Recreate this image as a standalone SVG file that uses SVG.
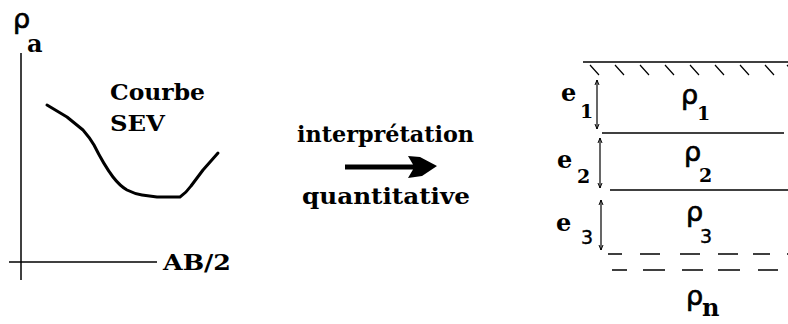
<svg xmlns="http://www.w3.org/2000/svg" width="788" height="324" viewBox="0 0 788 324">
<defs>
<marker id="tick" viewBox="0 0 6 6" refX="5.5" refY="3" markerWidth="6" markerHeight="6" markerUnits="userSpaceOnUse" orient="auto-start-reverse">
<path d="M0.5,1 L5.5,3 L0.5,5" fill="none" stroke="#000" stroke-width="1"/>
</marker>
<style>
.b{font-family:"DejaVu Serif","Liberation Serif",serif;font-weight:bold;font-size:22px;fill:#000}
.rho{font-family:"DejaVu Sans","Liberation Sans",sans-serif;font-size:27px;fill:#000;stroke:#000;stroke-width:0.7}
.sub{font-family:"DejaVu Serif","Liberation Serif",serif;font-weight:bold;font-size:19px;fill:#000}
.subs{font-family:"DejaVu Sans","Liberation Sans",sans-serif;font-size:19px;fill:#000;stroke:#000;stroke-width:0.4}
.e{font-family:"DejaVu Serif","Liberation Serif",serif;font-weight:bold;font-size:24px;fill:#000}
.ln{stroke:#000;stroke-width:1.5;fill:none}
.th{stroke:#000;stroke-width:1.2;fill:none}
</style>
</defs>
<rect width="788" height="324" fill="#fff"/>
<g id="graph">
<line class="ln" x1="21" y1="53" x2="21" y2="280"/>
<line class="ln" x1="9" y1="262" x2="157" y2="262"/>
<text class="rho" x="13" y="28">ρ</text>
<text class="e" x="27" y="52">a</text>
<path d="M47,105 L67,117 L83,130 Q90,138 94,145 Q104,165 113,177 Q120,186 127,190 Q135,194 142,195 L157,197 L180,197 Q186,193 191,186 L203,170 L218,153" fill="none" stroke="#000" stroke-width="3" stroke-linejoin="round" stroke-linecap="round"/>
<text class="b" x="110" y="100" textLength="95" lengthAdjust="spacingAndGlyphs">Courbe</text>
<text class="b" x="110" y="131" textLength="55" lengthAdjust="spacingAndGlyphs">SEV</text>
<text class="b" x="163" y="270" textLength="68" lengthAdjust="spacingAndGlyphs">AB/2</text>
</g>
<g id="connectors">
<polygon points="345,164.5 413,164.5 408,156 420,157 437,166 422,176 408,178 413,169.5 345,169.5" fill="#000"/>
</g>
<g id="interp-label">
<text class="b" x="297" y="142" textLength="177" lengthAdjust="spacingAndGlyphs">interprétation</text>
<text class="b" x="302" y="204" textLength="168" lengthAdjust="spacingAndGlyphs">quantitative</text>
</g>
<g id="layers">
<line class="ln" x1="583" y1="62" x2="788" y2="62"/>
<path class="th" d="M590,65 l9,10 M615,65 l9,10 M640,65 l9,10 M665,65 l9,10 M690,65 l9,10 M715,65 l9,10 M740,65 l9,10 M765,65 l9,10 M787,65 l9,10"/>
<line class="ln" x1="602" y1="133" x2="784" y2="133"/>
<line class="ln" x1="610" y1="190" x2="788" y2="190"/>
<line class="ln" x1="608" y1="254" x2="788" y2="254" stroke-dasharray="14 18 20 20 20 18 20 15 17 17 10 100"/>
<line class="ln" x1="612" y1="270" x2="788" y2="270" stroke-dasharray="15 16 22 17 21 15 22 18 20 100"/>
</g>
<g id="layer1">
<line class="th" x1="597" y1="80" x2="597" y2="129" marker-start="url(#tick)" marker-end="url(#tick)"/>
<text class="e" x="561" y="101">e</text>
<text class="sub" x="580" y="118">1</text>
<text class="rho" x="681" y="104">ρ</text>
<text class="sub" x="697" y="120">1</text>
</g>
<g id="layer2">
<line class="th" x1="600" y1="138" x2="600" y2="188" marker-start="url(#tick)" marker-end="url(#tick)"/>
<text class="e" x="557" y="168">e</text>
<text class="sub" x="577" y="183">2</text>
<text class="rho" x="684" y="161">ρ</text>
<text class="sub" x="699" y="182">2</text>
</g>
<g id="layer3">
<line class="th" x1="601" y1="200" x2="601" y2="250" marker-start="url(#tick)" marker-end="url(#tick)"/>
<text class="e" x="556" y="231">e</text>
<text class="subs" x="581" y="244">3</text>
<text class="rho" x="686" y="221">ρ</text>
<text class="subs" x="700" y="243">3</text>
</g>
<g id="layern">
<text class="rho" x="686" y="305">ρ</text>
<text class="e" x="702" y="316">n</text>
</g>
</svg>
